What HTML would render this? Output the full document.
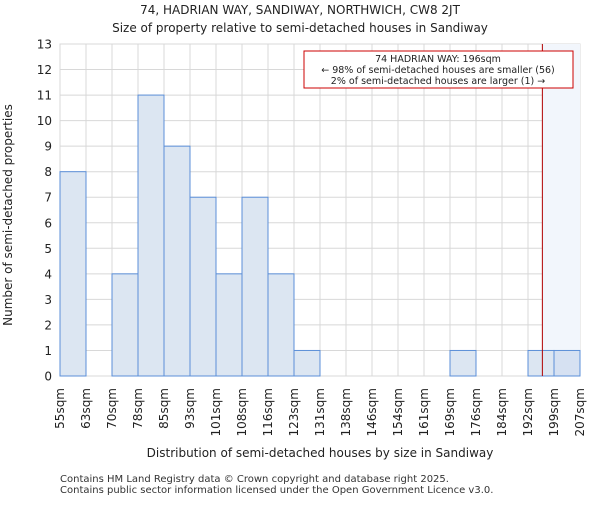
<!DOCTYPE html>
<html><head><meta charset="utf-8"><style>
body{margin:0;background:#fff;font-family:"Liberation Sans","DejaVu Sans",sans-serif}
svg text{font-family:"DejaVu Sans","Liberation Sans",sans-serif}
</style></head><body>
<svg id="chart" width="600" height="500" xmlns="http://www.w3.org/2000/svg">
<text x="300" y="14" text-anchor="middle" font-size="12" fill="#222">74, HADRIAN WAY, SANDIWAY, NORTHWICH, CW8 2JT</text>
<text x="300" y="32" text-anchor="middle" font-size="12" fill="#222">Size of property relative to semi-detached houses in Sandiway</text>
<g id="grid"></g>
<rect id="hl" fill="#f2f6fc"/>
<g id="bars"></g>
<g id="ticks"></g>
<line id="marker" stroke="#b00000" stroke-width="1"/>
<g>
<rect x="304" y="51" width="269" height="37" fill="#fff" stroke="#cc0000" stroke-width="1"/>
<text x="438" y="62" text-anchor="middle" font-size="9.5" fill="#222">74 HADRIAN WAY: 196sqm</text>
<text x="438" y="73" text-anchor="middle" font-size="9.5" fill="#222">← 98% of semi-detached houses are smaller (56)</text>
<text x="438" y="84" text-anchor="middle" font-size="9.5" fill="#222">2% of semi-detached houses are larger (1) →</text>
</g>
<text transform="translate(12,215) rotate(-90)" text-anchor="middle" font-size="12" fill="#222">Number of semi-detached properties</text>
<text x="320" y="457" text-anchor="middle" font-size="12" fill="#222">Distribution of semi-detached houses by size in Sandiway</text>
<text x="60" y="482" font-size="10" fill="#333">Contains HM Land Registry data © Crown copyright and database right 2025.</text>
<text x="60" y="493" font-size="10" fill="#333">Contains public sector information licensed under the Open Government Licence v3.0.</text>
</svg>
<script>
const binLabels=["55sqm","63sqm","70sqm","78sqm","85sqm","93sqm","101sqm","108sqm","116sqm","123sqm","131sqm","138sqm","146sqm","154sqm","161sqm","169sqm","176sqm","184sqm","192sqm","199sqm","207sqm"];
const counts=[8,0,4,11,9,7,4,7,4,1,0,0,0,0,0,1,0,0,1,1];
const yTicks=[0,1,2,3,4,5,6,7,8,9,10,11,12,13];
const xMin=55, xMax=207, propertySize=196;
const L=60,R=580,T=44,B=376,NS="http://www.w3.org/2000/svg";
const n=counts.length;
const xb=i=>L+i*(R-L)/n;
const xv=v=>L+(v-xMin)/(xMax-xMin)*(R-L);
const y=v=>B-v/13*(B-T);
function mk(t,a,p){const e=document.createElementNS(NS,t);for(const k in a)e.setAttribute(k,a[k]);p.appendChild(e);return e;}
const grid=document.getElementById('grid'),bars=document.getElementById('bars'),ticks=document.getElementById('ticks');
mk('rect',{x:L,y:T,width:R-L,height:B-T,fill:'#fff',stroke:'#d8d8d8'},grid);
for(let i=0;i<=n;i++){const l=mk('line',{x1:xb(i),x2:xb(i),y1:T,y2:B,stroke:'#d8d8d8'},grid);

}
yTicks.forEach(t=>{const l=mk('line',{x1:L,x2:R,y1:y(t),y2:y(t),stroke:'#d8d8d8'},grid);


const tx=mk('text',{x:L-8,y:y(t)+4.5,'text-anchor':'end','font-size':12,fill:'#222'},ticks);tx.textContent=t;

});
const hx=xv(propertySize);
const hl=document.getElementById('hl');hl.setAttribute('x',hx);hl.setAttribute('y',T);hl.setAttribute('width',R-hx);hl.setAttribute('height',B-T);
counts.forEach((c,i)=>{if(c<=0)return;const r=mk('rect',{x:xb(i),y:y(c),width:xb(i+1)-xb(i),height:B-y(c),fill:i==n-1?'#d6e1f2':'#dce6f2',stroke:'#5b8fd8','stroke-width':1},bars);

});
binLabels.forEach((s,i)=>{const tx=mk('text',{transform:`translate(${xb(i)+4},388) rotate(-90)`,'text-anchor':'end','font-size':12,fill:'#222'},ticks);tx.textContent=s;

});
const m=document.getElementById('marker');m.setAttribute('x1',hx);m.setAttribute('x2',hx);m.setAttribute('y1',T);m.setAttribute('y2',B);
</script>
</body></html>
